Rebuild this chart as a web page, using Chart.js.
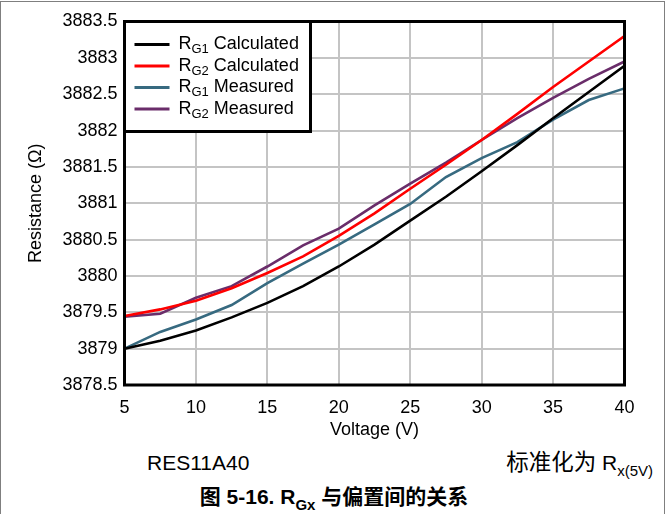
<!DOCTYPE html>
<html>
<head>
<meta charset="utf-8">
<script src="https://cdn.jsdelivr.net/npm/chart.js@4/dist/chart.umd.min.js"></script>
<style>
  html, body { margin: 0; padding: 0; background: #fff; }
  #page { position: relative; width: 668px; height: 514px; overflow: hidden; background: #fff; }
  #frame { position: absolute; left: 0; top: 1px; width: 665px; height: 540px; border: 1px solid #7f7f7f; box-sizing: border-box; }
  #chart { position: absolute; left: 0; top: 0; }
  .txt { position: absolute; font-family: "Liberation Sans", Arial, "Noto Sans CJK SC", sans-serif; font-size: 21px; color: #000; white-space: nowrap; line-height: 1; }
  .txt sub { font-size: 15px; vertical-align: -6px; line-height: 0; }
  #part { left: 147px; top: 452px; }
  #norm { right: 15px; top: 452px; }
  #norm .cjk { font-size: 22.5px; }
  #caption { left: 0; width: 668px; text-align: center; top: 486px; font-weight: bold; font-size: 21px; }
  #caption sub { font-size: 15px; }
</style>
</head>
<body>
<div id="page">
  <div id="frame"></div>
  <canvas id="chart" width="668" height="445"></canvas>
  <div class="txt" id="part">RES11A40</div>
  <div class="txt" id="norm"><span class="cjk">标准化为</span> R<sub>x(5V)</sub></div>
  <div class="txt" id="caption">图 5-16. R<sub>Gx</sub> 与偏置间的关系</div>
</div>
<script>
// Bias voltage (V) and resistance (Ω) for each gain resistor
const voltages = [5, 7.5, 10, 12.5, 15, 17.5, 20, 22.5, 25, 27.5, 30, 32.5, 35, 37.5, 40];
const rg1Calculated = [3879.00, 3879.11, 3879.25, 3879.43, 3879.63, 3879.86, 3880.13, 3880.43, 3880.76, 3881.09, 3881.44, 3881.80, 3882.17, 3882.53, 3882.89];
const rg2Calculated = [3879.45, 3879.54, 3879.66, 3879.83, 3880.04, 3880.27, 3880.55, 3880.86, 3881.20, 3881.53, 3881.87, 3882.23, 3882.60, 3882.95, 3883.30];
const rg1Measured   = [3879.00, 3879.23, 3879.40, 3879.60, 3879.90, 3880.17, 3880.43, 3880.71, 3880.99, 3881.36, 3881.62, 3881.84, 3882.15, 3882.42, 3882.58];
const rg2Measured   = [3879.44, 3879.48, 3879.70, 3879.86, 3880.13, 3880.42, 3880.65, 3880.97, 3881.27, 3881.56, 3881.87, 3882.17, 3882.45, 3882.71, 3882.95];

const seriesNames = ['R_G1 Calculated', 'R_G2 Calculated', 'R_G1 Measured', 'R_G2 Measured'];
const seriesColors = ['#000000', '#ff0000', '#376a80', '#6a2d6a'];
const xTickValues = [5, 10, 15, 20, 25, 30, 35, 40];
const yTickValues = [3878.5, 3879, 3879.5, 3880, 3880.5, 3881, 3881.5, 3882, 3882.5, 3883, 3883.5];

const FONT = '"Liberation Sans", Arial, sans-serif';
const seriesValues = [rg1Calculated, rg2Calculated, rg1Measured, rg2Measured];

const datasets = seriesValues.map((vals, i) => ({
  label: seriesNames[i],
  data: vals.map((v, k) => ({ x: voltages[k], y: v })),
  borderColor: seriesColors[i],
  backgroundColor: seriesColors[i],
  borderWidth: 2.6,
  pointRadius: 0,
  tension: 0,
  fill: false
}));

// Heavy frame round the plot area plus a boxed legend with subscripted labels
const framePlugin = {
  id: 'frameAndLegend',
  afterDatasetsDraw(chart) {
    const { ctx, chartArea: a } = chart;
    ctx.save();
    ctx.strokeStyle = '#000';
    ctx.lineWidth = 3;
    ctx.strokeRect(a.left, a.top, a.right - a.left, a.bottom - a.top);

    // legend box
    const bx = a.left, by = a.top, bw = 186, bh = 110;
    ctx.fillStyle = '#fff';
    ctx.fillRect(bx, by, bw, bh);
    ctx.strokeRect(bx, by, bw, bh);

    const rowY = [44.5, 66, 87.5, 109];
    chart.data.datasets.forEach((ds, i) => {
      const y = rowY[i];
      ctx.strokeStyle = ds.borderColor;
      ctx.lineWidth = 3;
      ctx.beginPath();
      ctx.moveTo(bx + 10, y);
      ctx.lineTo(bx + 45, y);
      ctx.stroke();

      const m = ds.label.match(/^(\S)_(\S+)(.*)$/);
      let x = bx + 54;
      ctx.fillStyle = '#000';
      ctx.textBaseline = 'middle';
      ctx.textAlign = 'left';
      ctx.font = '18px ' + FONT;
      ctx.fillText(m[1], x, y);
      x += ctx.measureText(m[1]).width;
      ctx.font = '13px ' + FONT;
      ctx.fillText(m[2], x, y + 5);
      x += ctx.measureText(m[2]).width;
      ctx.font = '18px ' + FONT;
      ctx.fillText(m[3], x, y);
    });
    ctx.restore();
  }
};

new Chart(document.getElementById('chart'), {
  type: 'line',
  data: { datasets },
  plugins: [framePlugin],
  options: {
    responsive: false,
    animation: false,
    events: [],
    layout: { padding: { left: 0, top: 21.5, right: 43.5, bottom: 0 } },
    plugins: { legend: { display: false }, tooltip: { enabled: false } },
    scales: {
      x: {
        type: 'linear',
        min: 5, max: 40,
        afterBuildTicks: s => { s.ticks = xTickValues.map(v => ({ value: v })); },
        afterFit: s => { s.height = 60; },
        ticks: { color: '#000', font: { family: FONT, size: 18 }, padding: 12, maxRotation: 0, autoSkip: false, callback: v => String(v) },
        grid: { color: '#c4c4c4', lineWidth: 2, drawTicks: false },
        border: { display: false },
        title: { display: true, text: 'Voltage (V)', color: '#000', font: { family: FONT, size: 18 }, padding: { top: 0, bottom: 4 } }
      },
      y: {
        type: 'linear',
        min: 3878.5, max: 3883.5,
        afterBuildTicks: s => { s.ticks = yTickValues.map(v => ({ value: v })); },
        afterFit: s => { s.width = 124.5; },
        ticks: { color: '#000', font: { family: FONT, size: 18 }, padding: 7, autoSkip: false, callback: v => String(v) },
        grid: { color: '#c4c4c4', lineWidth: 2, drawTicks: false },
        border: { display: false },
        title: { display: true, text: 'Resistance (Ω)', color: '#000', font: { family: FONT, size: 18 }, padding: { top: 25, bottom: 0 } }
      }
    }
  }
});
</script>
</body>
</html>
